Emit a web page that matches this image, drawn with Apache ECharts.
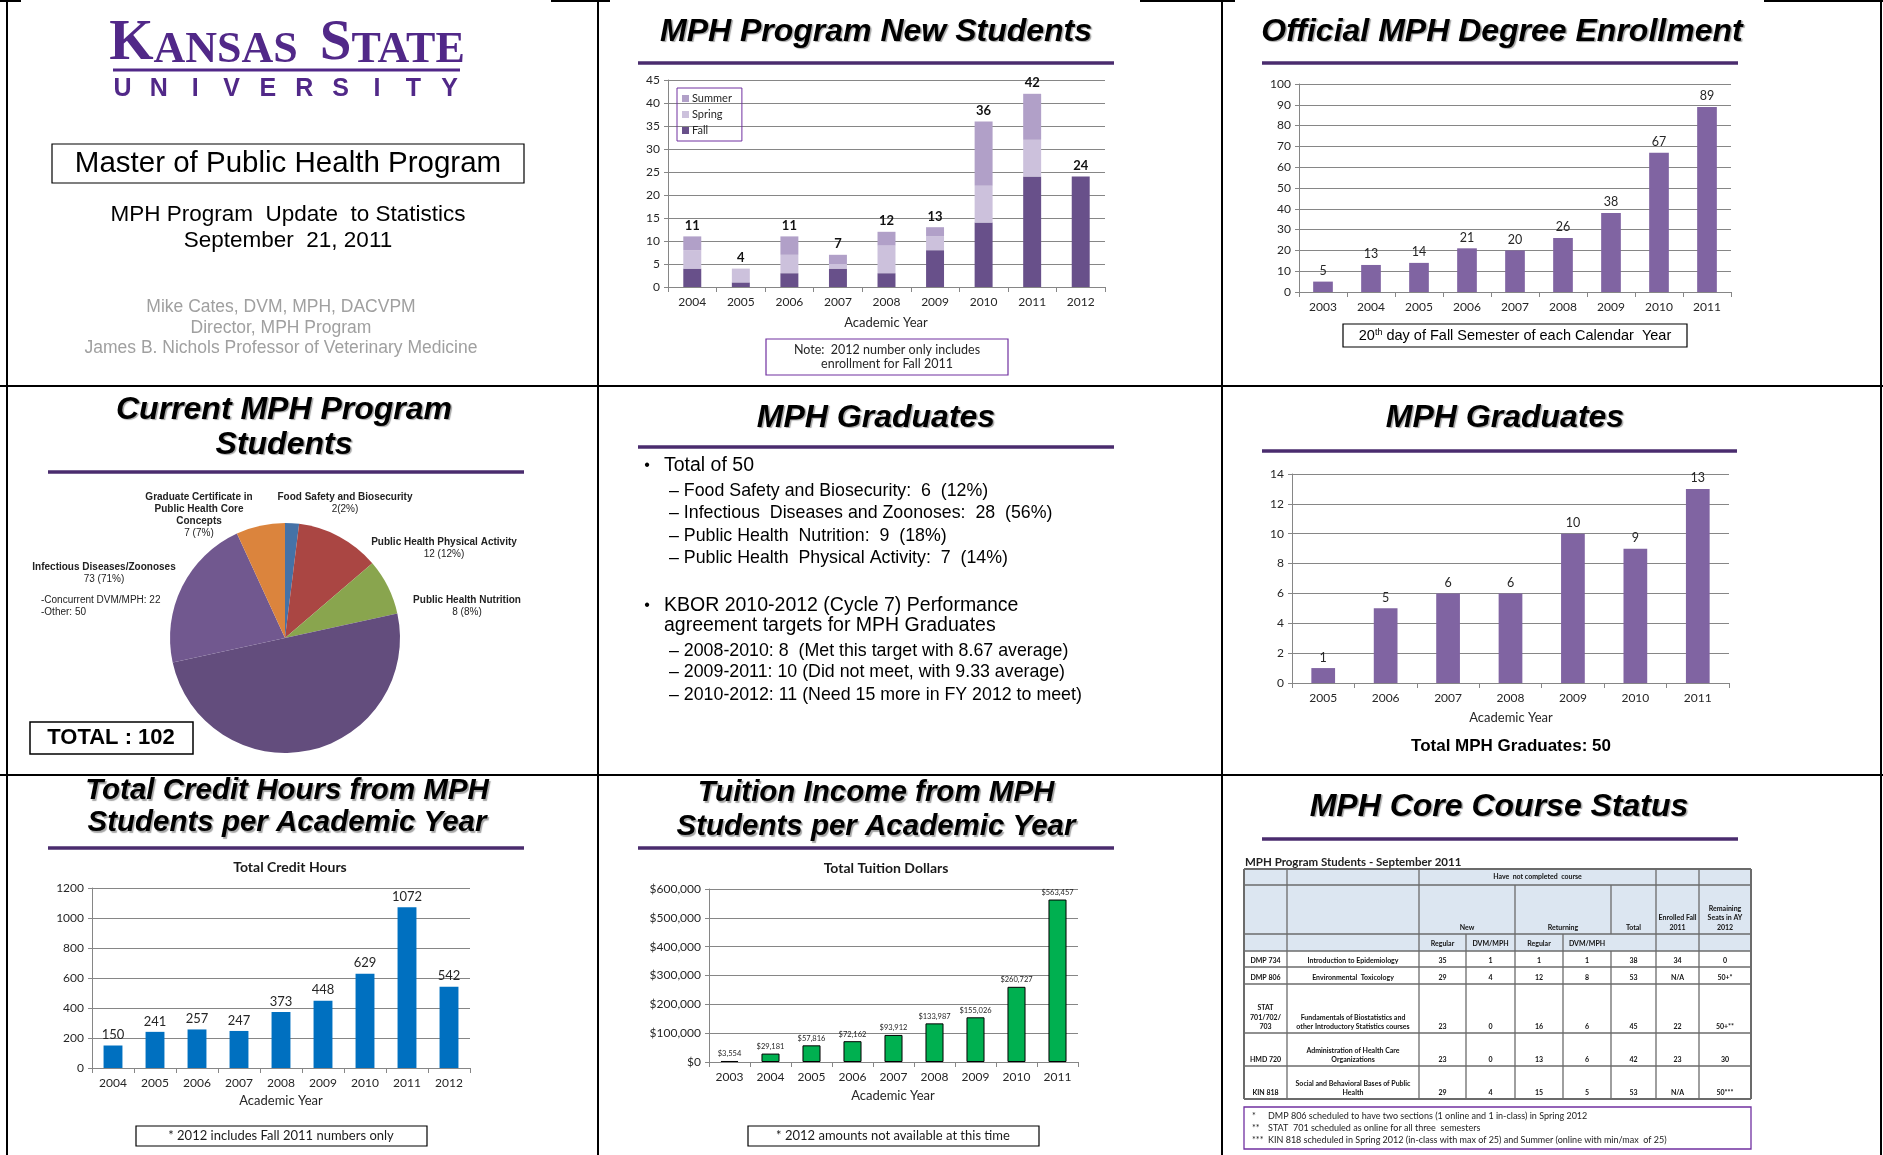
<!DOCTYPE html>
<html><head><meta charset="utf-8">
<script src="https://cdn.jsdelivr.net/npm/echarts@6/dist/echarts.min.js"></script>
<style>html,body{margin:0;padding:0;background:#fff;}#c{width:1883px;height:1155px;}</style>
</head><body><div id="c"></div>
<script>
// ---------- DATA ----------
const newYears   = ['2004','2005','2006','2007','2008','2009','2010','2011','2012'];
const newFall    = [4, 1, 3, 4, 3, 8, 14, 24, 24];
const newSpring  = [4, 3, 4, 1, 6, 3, 8, 8, 0];
const newSummer  = [3, 0, 4, 2, 3, 2, 14, 10, 0];

const enrollYears  = ['2003','2004','2005','2006','2007','2008','2009','2010','2011'];
const enrollValues = [5, 13, 14, 21, 20, 26, 38, 67, 89];

const pieNames  = ['Food Safety and Biosecurity','Public Health Physical Activity','Public Health Nutrition','Infectious Diseases/Zoonoses - Other','Infectious Diseases/Zoonoses - Concurrent DVM/MPH','Graduate Certificate in Public Health Core Concepts'];
const pieValues = [2, 12, 8, 51, 22, 7];

const gradYears  = ['2005','2006','2007','2008','2009','2010','2011'];
const gradValues = [1, 5, 6, 6, 10, 9, 13];

const creditYears  = ['2004','2005','2006','2007','2008','2009','2010','2011','2012'];
const creditValues = [150, 241, 257, 247, 373, 448, 629, 1072, 542];

const tuitionYears  = ['2003','2004','2005','2006','2007','2008','2009','2010','2011'];
const tuitionValues = [3554, 29181, 57816, 72162, 93912, 133987, 155026, 260727, 563457];

const tableCodes     = ['DMP 734','DMP 806','STAT\n701/702/\n703','HMD 720','KIN 818'];
const tableCourses   = ['Introduction to Epidemiology','Environmental  Toxicology','Fundamentals of Biostatistics and\nother Introductory Statistics courses','Administration of Health Care\nOrganizations','Social and Behavioral Bases of Public\nHealth'];
const tableNewReg    = ['35','29','23','23','29'];
const tableNewDvm    = ['1','4','0','0','4'];
const tableRetReg    = ['1','12','16','13','15'];
const tableRetDvm    = ['1','8','6','6','5'];
const tableTotal     = ['38','53','45','42','53'];
const tableEnrolled  = ['34','N/A','22','23','N/A'];
const tableRemaining = ['0','50+*','50+**','30','50***'];

const graduateBullets = ['Total of 50'];
const graduateSub1 = ['– Food Safety and Biosecurity:  6  (12%)','– Infectious  Diseases and Zoonoses:  28  (56%)','– Public Health  Nutrition:  9  (18%)','– Public Health  Physical Activity:  7  (14%)'];
const graduateSub2 = ['– 2008-2010: 8  (Met this target with 8.67 average)','– 2009-2011: 10 (Did not meet, with 9.33 average)','– 2010-2012: 11 (Need 15 more in FY 2012 to meet)'];

// ---------- HELPERS ----------
const SANS = '"Liberation Sans", Arial, sans-serif';
const CAL = 'Lato, "Open Sans", sans-serif';
const G = [];
function T(x, y, text, o) {
  o = o || {};
  const st = {text: text, x: 0, y: 0, fontFamily: o.ff || SANS, fontSize: o.fs || 12,
    fontWeight: o.fw || 'normal', fontStyle: o.it ? 'italic' : 'normal', fill: o.c || '#000',
    align: o.al || 'center', verticalAlign: o.va || 'middle'};
  if (o.lh) st.lineHeight = o.lh;
  if (o.rich) st.rich = o.rich;
  if (o.sh) { st.textShadowColor = 'rgba(0,0,0,0.35)'; st.textShadowOffsetX = 1.5; st.textShadowOffsetY = 1.5; st.textShadowBlur = 1; }
  G.push({type: 'text', x: x, y: y, silent: true, style: st, z: 10});
}
function L(x1, y1, x2, y2, c, w) {
  G.push({type: 'line', silent: true, shape: {x1, y1, x2, y2}, style: {stroke: c, lineWidth: w}, z: 5});
}
function R(x, y, w, h, stroke, lw, fill) {
  G.push({type: 'rect', silent: true, shape: {x, y, width: w, height: h}, style: {stroke: stroke || null, lineWidth: lw || 1, fill: fill || 'none'}, z: 4});
}
function title(cx, y, text, fs) { T(cx, y, text, {fs: fs || 32, fw: 'bold', it: true, sh: true}); }
const RULE = '#4a2c6e';
function rule(x1, x2, y) { L(x1, y, x2, y, RULE, 3.5); }

// ---------- FRAME ----------
[7, 598, 1222, 1881].forEach(x => L(x, 0, x, 1155, '#000', 2));
[386, 775].forEach(y => L(0, y, 1883, y, '#000', 2));
[[0,21],[551,610],[1140,1235],[1764,1883]].forEach(s => L(s[0], 1, s[1], 1, '#000', 2));

// ---------- PANEL 1 ----------
const KP = '#512888';
const serifB = {fontFamily: '"Liberation Serif", serif', fontWeight: 'bold', fontSize: 57, fill: KP, verticalAlign: 'bottom'};
const serifS = {fontFamily: '"Liberation Serif", serif', fontWeight: 'bold', fontSize: 44, fill: KP, verticalAlign: 'bottom'};
T(287, 44, '{b|K}{s|ANSAS}{g|\u00a0\u00a0}{b|S}{s|TATE}', {rich: {b: serifB, s: serifS,
  g: {fontFamily: '"Liberation Serif", serif', fontSize: 44, fill: KP, verticalAlign: 'bottom'}}});
L(113, 70, 460, 70, KP, 3);
'UNIVERSITY'.split('').forEach((ch, i) => T(122.5 + i * 36.35, 89, ch, {fs: 25, fw: 'bold', c: KP}));
R(52, 144, 472, 39, '#000', 1.2);
T(288, 164, 'Master of Public Health Program', {fs: 29.5});
T(288, 215, 'MPH Program  Update  to Statistics', {fs: 22.5});
T(288, 241, 'September  21, 2011', {fs: 22.5});
T(281, 307, 'Mike Cates, DVM, MPH, DACVPM', {fs: 17.5, c: '#a0a0a0'});
T(281, 328, 'Director, MPH Program', {fs: 17.5, c: '#a0a0a0'});
T(281, 348, 'James B. Nichols Professor of Veterinary Medicine', {fs: 17.5, c: '#a0a0a0'});

// ---------- PANEL 2 ----------
title(876, 32, 'MPH Program New Students');
rule(638, 1114, 63);
T(886, 323, 'Academic Year', {ff: CAL, fs: 13, c: '#262626'});
R(766, 339, 242, 36, '#7030a0', 1.2);
T(887, 350, 'Note:  2012 number only includes', {ff: CAL, fs: 12.5, c: '#262626'});
T(887, 364, 'enrollment for Fall 2011', {ff: CAL, fs: 12.5, c: '#262626'});

// ---------- PANEL 3 ----------
title(1502, 32, 'Official MPH Degree Enrollment');
rule(1262, 1738, 63);
R(1343, 324, 344, 23, '#000', 1.2);
T(1515, 336, '20{sup|th} day of Fall Semester of each Calendar  Year', {fs: 14.5, rich: {sup: {fontSize: 9, verticalAlign: 'top', fontFamily: SANS, fill: '#000'}}});

// ---------- PANEL 4 ----------
title(284, 410, 'Current MPH Program');
title(284, 445, 'Students');
rule(48, 524, 472);
const PL = {fs: 10, fw: 'bold', c: '#222'};
T(199, 497, 'Graduate Certificate in', PL); T(199, 509, 'Public Health Core', PL); T(199, 521, 'Concepts', PL); T(199, 533, '7 (7%)', {fs: 10, c: '#222'});
T(345, 497, 'Food Safety and Biosecurity', PL); T(345, 509, '2(2%)', {fs: 10, c: '#222'});
T(444, 542, 'Public Health Physical Activity', PL); T(444, 554, '12 (12%)', {fs: 10, c: '#222'});
T(467, 600, 'Public Health Nutrition', PL); T(467, 612, '8 (8%)', {fs: 10, c: '#222'});
T(104, 567, 'Infectious Diseases/Zoonoses', PL); T(104, 579, '73 (71%)', {fs: 10, c: '#222'});
T(41, 600, '-Concurrent DVM/MPH: 22', {fs: 10, c: '#222', al: 'left'}); T(41, 612, '-Other: 50', {fs: 10, c: '#222', al: 'left'});
R(30, 722, 163, 32, '#000', 1.5);
T(111, 738, 'TOTAL : 102', {fs: 22, fw: 'bold'});

// ---------- PANEL 5 ----------
title(876, 418, 'MPH Graduates');
rule(638, 1114, 447);
T(647, 466, '•', {fs: 16});
T(664, 466, graduateBullets[0], {fs: 19.5, al: 'left'});
[491, 513, 536, 558].forEach((y, i) => T(669, y, graduateSub1[i], {fs: 17.8, al: 'left'}));
T(647, 606, '•', {fs: 16});
T(664, 606, 'KBOR 2010-2012 (Cycle 7) Performance', {fs: 19.5, al: 'left'});
T(664, 626, 'agreement targets for MPH Graduates', {fs: 19.5, al: 'left'});
[651, 672, 695].forEach((y, i) => T(669, y, graduateSub2[i], {fs: 17.8, al: 'left'}));

// ---------- PANEL 6 ----------
title(1505, 418, 'MPH Graduates');
rule(1262, 1737, 451);
T(1511, 718, 'Academic Year', {ff: CAL, fs: 13, c: '#262626'});
T(1511, 746, 'Total MPH Graduates: 50', {fs: 17, fw: 'bold'});

// ---------- PANEL 7 ----------
title(287, 791, 'Total Credit Hours from MPH', 29.5);
title(287, 823, 'Students per Academic Year', 29.5);
rule(48, 524, 848);
T(290, 867, 'Total Credit Hours', {ff: CAL, fs: 14, fw: 'bold', c: '#1a1a1a'});
T(281, 1101, 'Academic Year', {ff: CAL, fs: 13, c: '#262626'});
R(136, 1126, 291, 20, '#000', 1.2);
T(281, 1136, '* 2012 includes Fall 2011 numbers only', {ff: CAL, fs: 13, c: '#1a1a1a'});

// ---------- PANEL 8 ----------
title(876, 793, 'Tuition Income from MPH', 29.5);
title(876, 827, 'Students per Academic Year', 29.5);
rule(638, 1114, 848);
T(886, 868, 'Total Tuition Dollars', {ff: CAL, fs: 14, fw: 'bold', c: '#1a1a1a'});
T(893, 1096, 'Academic Year', {ff: CAL, fs: 13, c: '#262626'});
R(748, 1126, 291, 20, '#000', 1.2);
T(893, 1136, '* 2012 amounts not available at this time', {ff: CAL, fs: 13, c: '#1a1a1a'});

// ---------- PANEL 9 ----------
title(1499, 807, 'MPH Core Course Status');
rule(1262, 1738, 839);
T(1245, 862, 'MPH Program Students - September 2011', {ff: CAL, fs: 11.5, fw: 'bold', al: 'left', c: '#222'});
(function table() {
  const cx = [1244, 1287, 1419, 1466, 1515, 1563, 1611, 1656, 1699, 1751];
  const ry = [869, 885, 934, 951, 967, 984, 1033, 1066, 1099];
  const LC = '#6b6b6b';
  R(cx[0], ry[0], cx[9] - cx[0], ry[3] - ry[0], null, 1, '#dce6f1');
  for (let i = 0; i < ry.length; i++) L(cx[0], ry[i], cx[9], ry[i], LC, i === 0 || i === ry.length - 1 ? 2 : 1.5);
  L(cx[0], ry[0], cx[0], ry[8], LC, 2); L(cx[9], ry[0], cx[9], ry[8], LC, 2);
  [1, 2, 7, 8].forEach(k => L(cx[k], ry[0], cx[k], ry[8], LC, 1.3));
  [4, 6].forEach(k => L(cx[k], ry[1], cx[k], ry[2], LC, 1.3));
  [3, 4, 5].forEach(k => L(cx[k], ry[2], cx[k], ry[3], LC, 1.3));
  [3, 4, 5, 6].forEach(k => L(cx[k], ry[3], cx[k], ry[8], LC, 1.3));
  const TS = {ff: CAL, fs: 7, fw: 'bold', c: '#111', lh: 9.5};
  T((cx[2] + cx[7]) / 2, 877, 'Have  not completed  course', TS);
  const hb = ry[2] - 2;
  T((cx[2] + cx[4]) / 2, hb, 'New', Object.assign({va: 'bottom'}, TS));
  T((cx[4] + cx[6]) / 2, hb, 'Returning', Object.assign({va: 'bottom'}, TS));
  T((cx[6] + cx[7]) / 2, hb, 'Total', Object.assign({va: 'bottom'}, TS));
  T((cx[7] + cx[8]) / 2, hb, 'Enrolled Fall\n2011', Object.assign({va: 'bottom'}, TS));
  T((cx[8] + cx[9]) / 2, hb, 'Remaining\nSeats in AY\n2012', Object.assign({va: 'bottom'}, TS));
  ['Regular', 'DVM/MPH', 'Regular', 'DVM/MPH'].forEach((s, i) => T((cx[2 + i] + cx[3 + i]) / 2, (ry[2] + ry[3]) / 2 + 1, s, TS));
  const cols = [tableCodes, tableCourses, tableNewReg, tableNewDvm, tableRetReg, tableRetDvm, tableTotal, tableEnrolled, tableRemaining];
  for (let r = 0; r < 5; r++) {
    const yb = ry[4 + r] - 1.5;
    cols.forEach((col, k) => T((cx[k] + cx[k + 1]) / 2, yb, col[r], Object.assign({va: 'bottom'}, TS)));
  }
  R(cx[0], 1107, cx[9] - cx[0], 42, '#7030a0', 1.3);
  const FS = {ff: CAL, fs: 9, al: 'left', c: '#222'};
  T(1252, 1116, '*', FS); T(1268, 1116, 'DMP 806 scheduled to have two sections (1 online and 1 in-class) in Spring 2012', FS);
  T(1252, 1128, '**', FS); T(1268, 1128, 'STAT  701 scheduled as online for all three  semesters', FS);
  T(1252, 1140, '***', FS); T(1268, 1140, 'KIN 818 scheduled in Spring 2012 (in-class with max of 25) and Summer (online with min/max  of 25)', FS);
})();

// ---------- CHART ----------
const AX = '#868686';
function xAx(i, cats) {
  return {gridIndex: i, type: 'category', data: cats,
    axisLine: {lineStyle: {color: AX, width: 1}},
    axisTick: {show: true, alignWithLabel: false, interval: 0, length: 5, lineStyle: {color: AX}},
    axisLabel: {fontFamily: CAL, fontSize: 12, color: '#262626', margin: 9, interval: 0}};
}
function yAx(i, max, interval, fmt) {
  return {gridIndex: i, type: 'value', min: 0, max: max, interval: interval,
    axisLine: {show: true, lineStyle: {color: AX, width: 1}},
    axisTick: {show: true, length: 4, lineStyle: {color: AX}},
    splitLine: {show: true, lineStyle: {color: AX, width: 1}},
    axisLabel: {fontFamily: CAL, fontSize: 12, color: '#262626', margin: 8, formatter: fmt || (v => String(v))}};
}
const money = v => '$' + Number(v).toLocaleString('en-US');
const labelTop = (fs, fw) => ({show: true, position: 'top', fontFamily: CAL, fontSize: fs, fontWeight: fw || 'normal', color: '#262626', distance: 4});

const option = {
  animation: false,
  grid: [
    {left: 668, top: 80, width: 437, height: 207},
    {left: 1299, top: 84, width: 432, height: 208},
    {left: 1292, top: 474, width: 437, height: 209},
    {left: 92, top: 888, width: 378, height: 180},
    {left: 709, top: 889, width: 369, height: 173}
  ],
  xAxis: [xAx(0, newYears), xAx(1, enrollYears), xAx(2, gradYears), xAx(3, creditYears), xAx(4, tuitionYears)],
  yAxis: [yAx(0, 45, 5), yAx(1, 100, 10), yAx(2, 14, 2), yAx(3, 1200, 200), yAx(4, 600000, 100000, money)],
  legend: {data: ['Summer', 'Spring', 'Fall'], orient: 'vertical', left: 677, top: 88, itemWidth: 7, itemHeight: 7,
    itemGap: 5, icon: 'rect', borderColor: '#7030a0', borderWidth: 1, padding: [5, 10, 5, 5],
    textStyle: {fontFamily: CAL, fontSize: 11, color: '#262626', padding: [0, 0, 0, -2]}},
  series: [
    {name: 'Fall', type: 'bar', stack: 'n', xAxisIndex: 0, yAxisIndex: 0, barWidth: '37%', data: newFall, itemStyle: {color: '#68508a'}},
    {name: 'Spring', type: 'bar', stack: 'n', xAxisIndex: 0, yAxisIndex: 0, data: newSpring, itemStyle: {color: '#ccc1dc'}},
    {name: 'Summer', type: 'bar', stack: 'n', xAxisIndex: 0, yAxisIndex: 0, data: newSummer, itemStyle: {color: '#b1a0c8'},
      label: Object.assign(labelTop(13, 'bold'), {color: '#111', formatter: p => newFall[p.dataIndex] + newSpring[p.dataIndex] + newSummer[p.dataIndex]})},
    {type: 'bar', xAxisIndex: 1, yAxisIndex: 1, barWidth: '41%', data: enrollValues, itemStyle: {color: '#8064a2'}, label: labelTop(12.5)},
    {type: 'bar', xAxisIndex: 2, yAxisIndex: 2, barWidth: '38%', data: gradValues, itemStyle: {color: '#8064a2'}, label: labelTop(12.5)},
    {type: 'bar', xAxisIndex: 3, yAxisIndex: 3, barWidth: '45%', data: creditValues, itemStyle: {color: '#0070c0'}, label: labelTop(13)},
    {type: 'bar', xAxisIndex: 4, yAxisIndex: 4, barWidth: '44%', data: tuitionValues, itemStyle: {color: '#00b050', borderColor: '#000', borderWidth: 1},
      label: Object.assign(labelTop(7.5), {formatter: p => money(p.value), distance: 3})},
    {type: 'pie', center: [285, 638], radius: 115, startAngle: 90, clockwise: true, silent: true,
      label: {show: false}, labelLine: {show: false},
      data: pieNames.map((n, i) => ({name: n, value: pieValues[i],
        itemStyle: {color: ['#4572a7', '#aa4643', '#89a54e', '#634d7d', '#71588f', '#db843d'][i]}}))}
  ],
  graphic: G
};
const chart = echarts.init(document.getElementById('c'), null, {renderer: 'canvas'});
chart.setOption(option);
</script></body></html>
